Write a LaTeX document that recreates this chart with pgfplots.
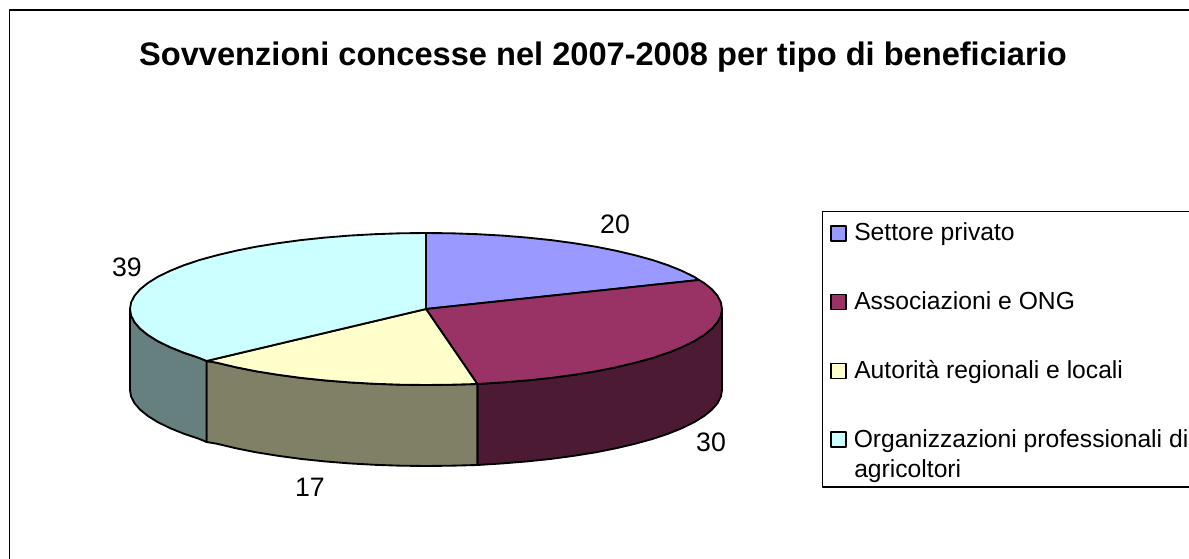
\documentclass[border=0pt]{standalone}
\usepackage{pgfplots}
\pgfplotsset{compat=1.18}
\usepackage{fontspec}
\setmainfont{Liberation Sans}
\definecolor{cBlue}{HTML}{9999FF}
\definecolor{cRed}{HTML}{993366}
\definecolor{cYel}{HTML}{FFFFCC}
\definecolor{cCya}{HTML}{CCFFFF}
\definecolor{sRed}{HTML}{4D1A33}
\definecolor{sYel}{HTML}{808066}
\definecolor{sCya}{HTML}{668080}
\newcommand{\lab}{\fontsize{18.5pt}{22pt}\selectfont}
\newcommand{\dlab}{\fontsize{20pt}{24pt}\selectfont}
\begin{document}
\begin{tikzpicture}
\begin{axis}[
  scale only axis, width=891.75pt, height=419.25pt,
  xmin=0, xmax=1189, ymin=0, ymax=559, y dir=reverse,
  hide axis, no markers, clip=true,
  every axis plot/.append style={line join=round, line width=1.4pt, draw=black},
]
\addplot[fill=white, draw=none] coordinates {(0,0)(1189,0)(1189,559)(0,559)} --cycle;
% frame
\addplot[draw=black, line width=1.2pt] coordinates {(9.5,559)(9.5,10)(1189,10)};
% side walls
\addplot[fill=sRed] coordinates {(722,309)(720.9,315.6)(717.5,322.2)(711.9,328.7)(704.1,335)(694.3,341.1)(682.3,347)(668.5,352.6)(652.8,357.9)(635.3,362.7)(616.3,367.2)(595.8,371.3)(574,374.8)(551.1,377.9)(527.2,380.4)(502.6,382.4)(477.4,384)(477.4,465)(502.6,463.4)(527.2,461.4)(551.1,458.9)(574,455.8)(595.8,452.3)(616.3,448.2)(635.3,443.7)(652.8,438.9)(668.5,433.6)(682.3,428)(694.3,422.1)(704.1,416)(711.9,409.7)(717.5,403.2)(720.9,396.6)(722,390)} --cycle;
\addplot[fill=sYel] coordinates {(477.4,384)(451.8,384.7)(426,385)(400.2,384.7)(374.6,383.8)(349.4,382.4)(324.8,380.4)(300.9,377.9)(278,374.8)(256.2,371.3)(235.7,367.2)(216.7,362.7)(206.5,361)(206.5,442)(216.7,443.7)(235.7,448.2)(256.2,452.3)(278,455.8)(300.9,458.9)(324.8,461.4)(349.4,463.4)(374.6,464.8)(400.2,465.7)(426,466)(451.8,465.7)(477.4,465)} --cycle;
\addplot[fill=sCya] coordinates {(206.5,361)(199.2,357.9)(183.5,352.6)(169.7,347)(157.7,341.1)(147.9,335)(140.1,328.7)(134.5,322.2)(131.1,315.6)(130,309)(130,390)(131.1,396.6)(134.5,403.2)(140.1,409.7)(147.9,416)(157.7,422.1)(169.7,428)(183.5,433.6)(199.2,438.9)(206.5,442)} --cycle;
% top slices
\addplot[fill=cBlue] coordinates {(426,309)(426,233)(451.8,233.3)(477.4,234.2)(502.6,235.6)(527.2,237.6)(551.1,240.1)(574,243.2)(595.8,246.7)(616.3,250.8)(635.3,255.3)(652.8,260.1)(668.5,265.4)(682.3,271)(694.3,276.9)(699,280)} --cycle;
\addplot[fill=cRed] coordinates {(426,309)(699,280)(704.1,283)(711.9,289.3)(717.5,295.8)(720.9,302.4)(722,309)(720.9,315.6)(717.5,322.2)(711.9,328.7)(704.1,335)(694.3,341.1)(682.3,347)(668.5,352.6)(652.8,357.9)(635.3,362.7)(616.3,367.2)(595.8,371.3)(574,374.8)(551.1,377.9)(527.2,380.4)(502.6,382.4)(477.4,384)} --cycle;
\addplot[fill=cYel] coordinates {(426,309)(477.4,384)(451.8,384.7)(426,385)(400.2,384.7)(374.6,383.8)(349.4,382.4)(324.8,380.4)(300.9,377.9)(278,374.8)(256.2,371.3)(235.7,367.2)(216.7,362.7)(206.5,361)} --cycle;
\addplot[fill=cCya] coordinates {(426,309)(206.5,361)(199.2,357.9)(183.5,352.6)(169.7,347)(157.7,341.1)(147.9,335)(140.1,328.7)(134.5,322.2)(131.1,315.6)(130,309)(131.1,302.4)(134.5,295.8)(140.1,289.3)(147.9,283)(157.7,276.9)(169.7,271)(183.5,265.4)(199.2,260.1)(216.7,255.3)(235.7,250.8)(256.2,246.7)(278,243.2)(300.9,240.1)(324.8,237.6)(349.4,235.6)(374.6,234.2)(400.2,233.3)(426,233)} --cycle;
% legend
\addplot[draw=black, line width=0.8pt] coordinates {(1195,211.5)(822.5,211.5)(822.5,487)(1195,487)};
\addplot[fill=cBlue, line width=1.1pt] coordinates {(831,226)(846,226)(846,241)(831,241)} --cycle;
\addplot[fill=cRed, line width=1.1pt] coordinates {(831,294.5)(846,294.5)(846,309.5)(831,309.5)} --cycle;
\addplot[fill=cYel, line width=1.1pt] coordinates {(831,363.5)(846,363.5)(846,378.5)(831,378.5)} --cycle;
\addplot[fill=cCya, line width=1.1pt] coordinates {(831,432)(846,432)(846,447)(831,447)} --cycle;
\node[anchor=base west, inner sep=0pt] at (axis cs:854,240.7) {\lab Settore privato};
\node[anchor=base west, inner sep=0pt] at (axis cs:854,309.3) {\lab Associazioni e ONG};
\node[anchor=base west, inner sep=0pt] at (axis cs:854,378.7) {\lab Autorità regionali e locali};
\node[anchor=base west, inner sep=0pt] at (axis cs:853.5,447.3) {\lab Organizzazioni professionali di};
\node[anchor=base west, inner sep=0pt] at (axis cs:854,477.3) {\lab agricoltori};
% data labels
\node[anchor=base, inner sep=0pt] at (axis cs:615,234) {\dlab 20};
\node[anchor=base, inner sep=0pt] at (axis cs:711,451) {\dlab 30};
\node[anchor=base, inner sep=0pt] at (axis cs:310,497) {\dlab 17};
\node[anchor=base, inner sep=0pt] at (axis cs:127,277) {\dlab 39};
% title
\node[anchor=base, inner sep=0pt] at (axis cs:603,66) {\fontsize{24.45pt}{29pt}\selectfont\bfseries Sovvenzioni concesse nel 2007-2008 per tipo di beneficiario};
\end{axis}
\end{tikzpicture}
\end{document}
